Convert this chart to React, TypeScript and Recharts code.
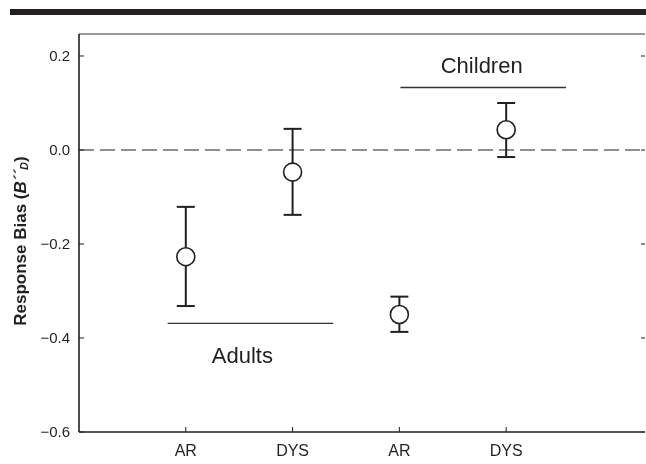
import React from 'react';
import { ScatterChart, Scatter, XAxis, YAxis, ErrorBar, ReferenceLine } from 'recharts';

// ---- data ----
const categories = ['AR', 'DYS', 'AR', 'DYS'];
const positions = [1, 2, 3, 4];
const means = [-0.227, -0.047, -0.35, 0.043];
const errLow = [0.105, 0.091, 0.037, 0.058];
const errHigh = [0.106, 0.092, 0.038, 0.057];
const yTicks = [-0.6, -0.4, -0.2, 0, 0.2];
const groupNames = ['Adults', 'Children'];
const groupFrom = [0.83, 3.01];
const groupTo = [2.38, 4.56];
const groupY = [-0.369, 0.133];

const X_DOMAIN: [number, number] = [0, 5.3];
const Y_DOMAIN: [number, number] = [-0.6, 0.2468];

const INK = '#231f20';
const FONT = '"Liberation Sans", Arial, Helvetica, sans-serif';

const data = positions.map((p, i) => ({
  x: p,
  y: means[i],
  err: [errLow[i], errHigh[i]],
}));

const fmtY = (v: number) => {
  if (Math.abs(v) < 1e-9) return '0.0';
  return v < 0 ? '\u2212' + Math.abs(v).toFixed(1) : v.toFixed(1);
};
const fmtX = (v: number) => {
  const i = positions.indexOf(v);
  return i >= 0 ? categories[i] : '';
};

const Circle = (props: any) => {
  const { cx, cy } = props;
  if (cx == null || cy == null) return null;
  return <circle cx={cx} cy={cy} r={9} fill="#fff" stroke={INK} strokeWidth={1.6} />;
};
const Nothing = () => null;
const NoTick = () => <g />;

const groupLabelOffsets = [
  { dx: -8, dy: 40 },
  { dx: -1.5, dy: -14.7 },
];

const makeGroupLabel = (i: number) => (props: any) => {
  const vb = props.viewBox || {};
  const cx = (vb.x ?? 0) + (vb.width ?? 0) / 2 + groupLabelOffsets[i].dx;
  const cy = (vb.y ?? 0) + groupLabelOffsets[i].dy;
  return (
    <text x={cx} y={cy} textAnchor="middle" fontSize={22} fontFamily={FONT} fill={INK}>
      {groupNames[i]}
    </text>
  );
};

const YTitle = (props: any) => {
  const vb = props.viewBox || {};
  const cx = (vb.x ?? 0) + 12;
  const cy = (vb.y ?? 0) + (vb.height ?? 0) / 2 + 8;
  return (
    <text
      x={cx}
      y={cy}
      transform={`rotate(-90, ${cx}, ${cy})`}
      textAnchor="middle"
      dominantBaseline="central"
      fontSize={17}
      fontWeight="bold"
      fontFamily={FONT}
      fill={INK}
    >
      Response Bias (
      <tspan fontStyle="italic">B´´</tspan>
      <tspan fontStyle="italic" fontSize={11} dy={4}>D</tspan>
      <tspan dy={-4}>)</tspan>
    </text>
  );
};

export default function App() {
  return (
    <div style={{ position: 'fixed', left: 8, top: 8, width: 638, height: 456, overflow: 'hidden' }}>
      <div style={{ position: 'absolute', left: 2, top: 1, width: 636, height: 6, background: INK }} />
      <ScatterChart width={638} height={456} margin={{ top: 25, right: 0, bottom: 2, left: 0 }}>
        <XAxis
          xAxisId="top"
          orientation="top"
          type="number"
          dataKey="x"
          domain={X_DOMAIN}
          allowDataOverflow
          height={1}
          tick={false}
          tickLine={false}
          axisLine={false}
        />
        <XAxis
          type="number"
          dataKey="x"
          domain={X_DOMAIN}
          allowDataOverflow
          ticks={positions}
          tickFormatter={fmtX}
          interval={0}
          height={30}
          tickSize={-5}
          tickMargin={18}
          axisLine={{ stroke: INK, strokeWidth: 1.6 }}
          tickLine={{ stroke: INK, strokeWidth: 1 }}
          tick={{ fill: INK, fontSize: 16, fontFamily: FONT }}
        />
        <YAxis
          type="number"
          dataKey="y"
          domain={Y_DOMAIN}
          allowDataOverflow
          ticks={yTicks}
          tickFormatter={fmtY}
          interval={0}
          width={71}
          tickSize={-5}
          tickMargin={14}
          axisLine={{ stroke: INK, strokeWidth: 1.6 }}
          tickLine={{ stroke: INK, strokeWidth: 1 }}
          tick={{ fill: INK, fontSize: 15, fontFamily: FONT }}
          label={<YTitle />}
        />
        <YAxis
          yAxisId="r"
          orientation="right"
          type="number"
          dataKey="y"
          domain={Y_DOMAIN}
          allowDataOverflow
          ticks={yTicks}
          interval={0}
          width={1}
          tickSize={-4}
          tick={<NoTick />}
          axisLine={false}
          tickLine={{ stroke: '#444', strokeWidth: 1.2 }}
        />
        <ReferenceLine y={Y_DOMAIN[1]} stroke="#9a9a9a" strokeWidth={2} />
        <ReferenceLine y={0} stroke="#6b6b6b" strokeWidth={1.4} strokeDasharray="15 6" />
        {groupNames.map((g, i) => (
          <ReferenceLine
            key={g}
            segment={[
              { x: groupFrom[i], y: groupY[i] },
              { x: groupTo[i], y: groupY[i] },
            ]}
            stroke="#333"
            strokeWidth={1.3}
            label={makeGroupLabel(i)}
          />
        ))}
        <Scatter data={data} xAxisId="top" yAxisId="r" isAnimationActive={false} shape={<Nothing />} />
        <Scatter data={data} isAnimationActive={false} shape={<Circle />}>
          <ErrorBar dataKey="err" direction="y" width={9} stroke={INK} strokeWidth={2} isAnimationActive={false} />
        </Scatter>
      </ScatterChart>
    </div>
  );
}
